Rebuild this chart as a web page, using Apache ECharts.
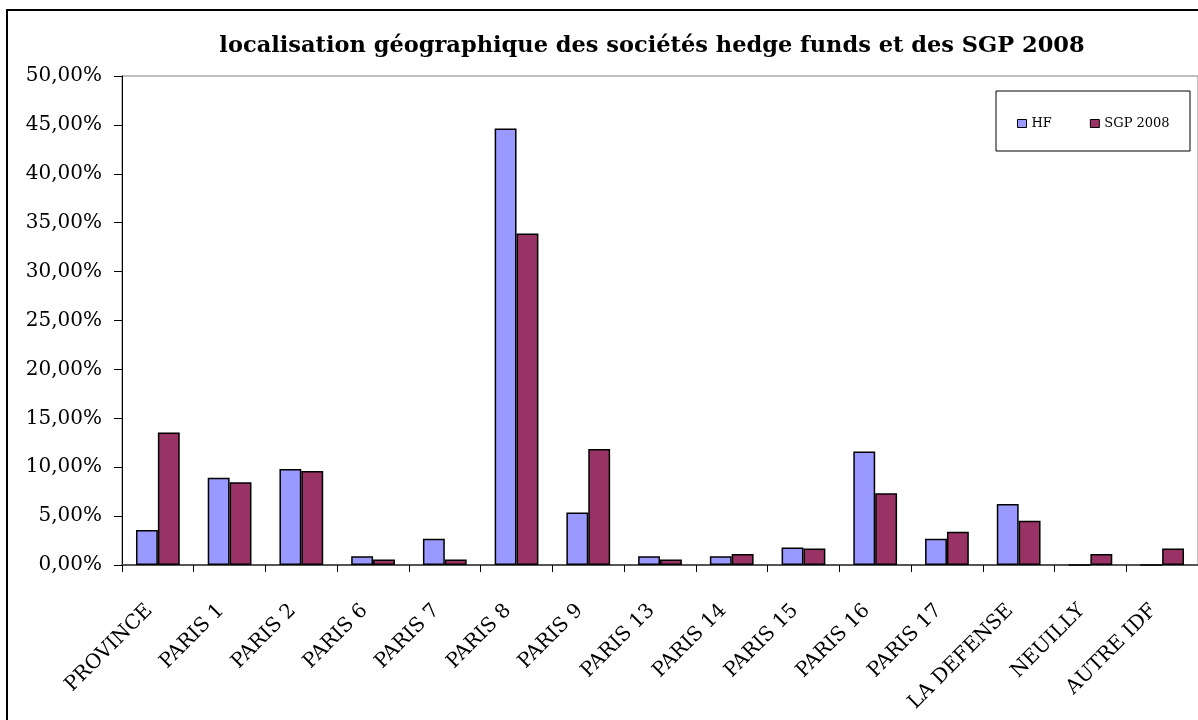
<!DOCTYPE html>
<html>
<head>
<meta charset="utf-8">
<script src="https://cdn.jsdelivr.net/npm/echarts@6/dist/echarts.min.js"></script>
<style>
  html, body { margin: 0; padding: 0; background: #fff; }
  #chart { width: 1198px; height: 720px; }
</style>
</head>
<body>
<div id="chart"></div>
<script>
// categories et valeurs (en %)
var categories = ['PROVINCE', 'PARIS 1', 'PARIS 2', 'PARIS 6', 'PARIS 7', 'PARIS 8', 'PARIS 9',
    'PARIS 13', 'PARIS 14', 'PARIS 15', 'PARIS 16', 'PARIS 17', 'LA DEFENSE', 'NEUILLY', 'AUTRE IDF'];
var hfValues = [3.57, 8.93, 9.82, 0.89, 2.68, 44.64, 5.36, 0.89, 0.89, 1.79, 11.61, 2.68, 6.25, 0, 0];
var sgpValues = [13.56, 8.47, 9.60, 0.56, 0.56, 33.90, 11.86, 0.56, 1.13, 1.69, 7.34, 3.39, 4.52, 1.13, 1.69];
var yTicks = [0, 5, 10, 15, 20, 25, 30, 35, 40, 45, 50];

var serif = '"DejaVu Serif", "Liberation Serif", serif';

var chart = echarts.init(document.getElementById('chart'));

function fmt(v) {
    return v.toFixed(2).replace('.', ',') + '%';
}

var option = {
    backgroundColor: '#fff',
    animation: false,
    title: {
        text: 'localisation géographique des sociétés hedge funds et des SGP 2008',
        left: 647,
        textAlign: 'center',
        top: 30,
        textStyle: {
            fontFamily: serif,
            fontSize: 22.5,
            fontWeight: 'bold',
            color: '#000'
        }
    },
    legend: {
        data: ['HF', 'SGP 2008'],
        left: 1012,
        top: 112,
        icon: 'rect',
        itemWidth: 9,
        itemHeight: 8,
        itemGap: 38,
        itemStyle: { borderColor: '#000', borderWidth: 1 },
        textStyle: { fontFamily: serif, fontSize: 13, color: '#000' }
    },
    graphic: [
        {
            type: 'rect',
            shape: { x: 7, y: 10, width: 1200, height: 720 },
            style: { fill: 'none', stroke: '#000', lineWidth: 2 },
            silent: true
        },
        {
            type: 'rect',
            shape: { x: 996, y: 91, width: 194, height: 60 },
            style: { fill: '#fff', stroke: '#000', lineWidth: 1 },
            z: 1,
            silent: true
        }
    ],
    grid: {
        left: 122,
        top: 76,
        width: 1080,
        bottom: 155,
        show: true,
        borderColor: '#808080',
        borderWidth: 1,
        backgroundColor: 'transparent'
    },
    xAxis: {
        type: 'category',
        data: categories,
        axisLine: { lineStyle: { color: '#555', width: 2 } },
        axisTick: { show: true, length: 7, lineStyle: { color: '#000' } },
        axisLabel: {
            interval: 0,
            rotate: 45,
            margin: 34,
            padding: [0, 12, 0, 0],
            fontFamily: serif,
            fontSize: 20,
            color: '#000'
        }
    },
    yAxis: {
        type: 'value',
        min: 0,
        max: 50,
        interval: 5,
        splitLine: { show: false },
        axisLine: { show: true, lineStyle: { color: '#000', width: 1 } },
        axisTick: { show: true, length: 8, lineStyle: { color: '#000' } },
        axisLabel: {
            margin: 20,
            fontFamily: serif,
            fontSize: 20,
            color: '#000',
            formatter: function (v) { return fmt(v); }
        }
    },
    series: [
        {
            name: 'HF',
            type: 'bar',
            data: hfValues,
            barGap: '0%',
            barCategoryGap: '39%',
            itemStyle: { color: '#9999FF', borderColor: '#000', borderWidth: 1.5 },
            z: 3
        },
        {
            name: 'SGP 2008',
            type: 'bar',
            data: sgpValues,
            barGap: '0%',
            barCategoryGap: '39%',
            itemStyle: { color: '#993366', borderColor: '#000', borderWidth: 1.5 },
            z: 3
        }
    ]
};

chart.setOption(option);
</script>
</body>
</html>
